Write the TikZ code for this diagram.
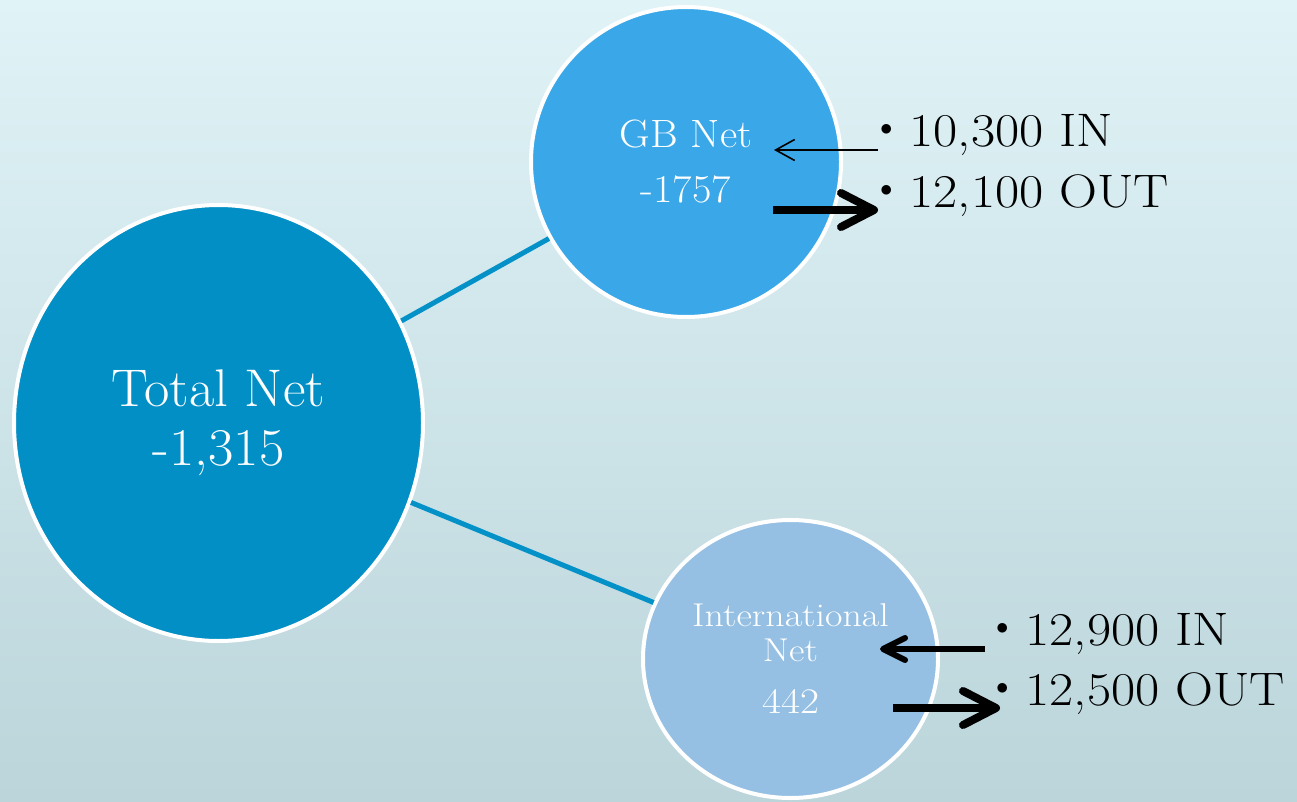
\documentclass[tikz,border=0pt]{standalone}
\usetikzlibrary{shapes.geometric,arrows.meta}
\definecolor{bgtop}{HTML}{E0F3F7}
\definecolor{bgbottom}{HTML}{BBD5DA}
\definecolor{totalblue}{HTML}{028FC6}
\definecolor{gbblue}{HTML}{3AA8E8}
\definecolor{intlblue}{HTML}{95C0E3}
\definecolor{linkblue}{HTML}{0491C8}
\newcommand{\flowdot}{\raisebox{11pt}{\fontsize{24}{24}\selectfont$\bullet$}\hspace{17pt}}
\newcommand{\wide}[2]{\scalebox{#1}[1]{#2}}

\begin{document}
\begin{tikzpicture}[x=1pt,y=-1pt,
    net/.style={ellipse,draw=white,line width=4pt,inner sep=0pt,
        text=white,align=center},
    link/.style={linkblue,line width=5pt},
    flow/.style={anchor=base west,inner sep=0pt,
        font={\fontsize{47}{61}\selectfont}},
    inthin/.style={-{Straight Barb[length=19pt,width=21pt]},line width=1.6pt},
    inthick/.style={-{Straight Barb[round,length=22pt,width=22pt]},line width=6pt},
    outthick/.style={-{Straight Barb[round,length=33pt,width=34pt]},line width=8pt},
    ]
    % Background
    \shade[top color=bgtop,bottom color=bgbottom] (0,0) rectangle (1297,802);
    \useasboundingbox (0,0) rectangle (1297,802);

    % Circles
    \node[net,fill=totalblue,minimum width=409pt,minimum height=436pt,
        font={\fontsize{53}{59}\selectfont}] (total) at (218.5,423)
        {\wide{1.04}{Total Net}\\\wide{1.04}{-1,315}};
    \node[net,fill=gbblue,minimum width=310pt,minimum height=310pt,
        font={\fontsize{39.5}{55}\selectfont}] (gb) at (686,162)
        {\wide{1.07}{GB Net}\\\wide{1.07}{-1757}};
    \node[net,fill=intlblue,minimum width=295pt,minimum height=278pt,
        font={\fontsize{33}{35}\selectfont}] (intl) at (790.5,659)
        {\wide{1.15}{International}\\\wide{1.15}{Net}\\[17pt]%
         \wide{1.15}{\fontsize{36}{36}\selectfont 442}};

    % Links
    \draw[link] (total) -- (gb);
    \draw[link] (total) -- (intl);

    % Flows
    \node[flow] (gbin) at (880,147) {\flowdot\wide{1.12}{10,300 IN}};
    \node[flow] (gbout) at (880,208) {\flowdot\wide{1.12}{12,100 OUT}};
    \node[flow] (intlin) at (996,645) {\flowdot\wide{1.12}{12,900 IN}};
    \node[flow] (intlout) at (996,705) {\flowdot\wide{1.12}{12,500 OUT}};

    \coordinate (gbin-s) at (878,150);
    \coordinate (gbin-e) at (774,150);
    \coordinate (gbout-s) at (773,210);
    \coordinate (gbout-e) at (878,210);
    \coordinate (intlin-s) at (985,649);
    \coordinate (intlin-e) at (880,649);
    \coordinate (intlout-s) at (893,708);
    \coordinate (intlout-e) at (1000,708);

    \draw[inthin] (gbin-s) -- (gbin-e);
    \draw[outthick] (gbout-s) -- (gbout-e);
    \draw[inthick] (intlin-s) -- (intlin-e);
    \draw[outthick] (intlout-s) -- (intlout-e);

\end{tikzpicture}
\end{document}
